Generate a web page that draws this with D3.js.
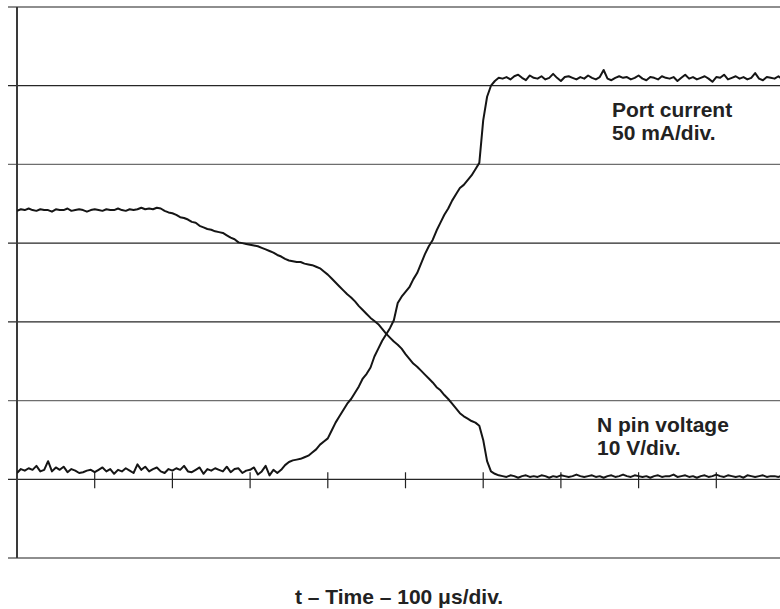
<!DOCTYPE html>
<html>
<head>
<meta charset="utf-8">
<script src="https://cdn.jsdelivr.net/npm/d3@7"></script>
<style>
  body { margin: 0; background: #fff; }
  svg { display: block; font-family: "Liberation Sans", Arial, sans-serif; }
</style>
</head>
<body>
<svg id="chart" width="780" height="609"></svg>
<script>
// ---------------------------------------------
//  Scope capture data
// ---------------------------------------------

// sample period of the capture, in microseconds
const sampleStep = 5;
const timeSpan = 1000;

// Port current, mA (50 mA/div)
const portCurrent = [
  4.0, 6.5, 5.5, 7.0, 6.0, 8.5, 5.0, 6.0, 11.5, 5.0, 7.5, 6.0, 8.0, 4.5, 6.5, 5.5, 4.0, 4.5, 5.5, 6.0,
  4.5, 6.0, 7.5, 5.0, 6.5, 3.5, 6.0, 5.0, 7.0, 5.5, 4.0, 9.5, 6.0, 8.0, 5.0, 6.5, 7.5, 5.0, 4.0, 6.5,
  5.5, 7.0, 6.0, 8.5, 5.0, 4.5, 6.0, 7.5, 3.5, 6.5, 5.5, 7.0, 6.0, 5.0, 8.0, 4.5, 6.5, 7.0, 4.0, 5.5,
  6.0, 7.5, 3.0, 5.0, 8.5, 2.5, 6.0,
  4.0, 6.0, 9.0, 11.0, 12.0, 12.5, 13.0, 14.0, 15.0, 17.0, 19.0, 22.0, 24.0, 26.0, 31.0, 36.0, 40.0, 44.0, 48.0, 51.0,
  55.0, 59.0, 64.0, 67.0, 71.0, 78.0, 83.0, 88.0, 92.0, 96.0, 101.0, 112.0, 116.0, 119.0, 122.0, 127.0, 131.0, 137.0, 143.0, 148.0,
  152.0, 158.0, 163.0, 168.0, 172.0, 177.0, 181.0, 185.0, 187.0, 190.0, 193.0, 197.0, 201.0, 228.0, 243.0, 250.0, 253.0, 255.0,
  254.5, 255.5, 254, 256, 257, 255, 253.5, 256.5, 255, 254.5,
  256, 254, 255, 257.5, 255, 253, 255.5, 256, 255, 254,
  255.5, 254.5, 256.5, 255, 254, 255.5, 260, 254.5, 253.5, 255,
  256, 255, 255.5, 254, 255, 256.5, 254.5, 253.5, 255.5, 255,
  254, 256, 255, 254.5, 255.5, 253, 255, 257, 254.5, 255.5,
  254, 255, 256, 254.5, 252.5, 255.5, 255, 257, 254, 255,
  256, 254.5, 255.5, 254, 255, 258, 254.5, 253.5, 255.5, 255,
  254.5, 256, 254, 255, 255.5, 254.5
];

// N pin voltage, V (10 V/div)
const pinVoltage = [
  34.1, 34.3, 34.2, 34.4, 34.2, 34.1, 34.3, 34.2, 34.2, 34.0,
  34.3, 34.2, 34.2, 34.4, 34.1, 34.2, 34.3, 34.2, 34.0, 34.2,
  34.3, 34.2, 34.1, 34.3, 34.2, 34.2, 34.4, 34.2, 34.1, 34.3,
  34.2, 34.3, 34.5, 34.3, 34.4,
  34.3, 34.5, 34.4, 34.1, 33.9, 33.8, 33.6, 33.3, 33.2, 33.0,
  32.7, 32.6, 32.2, 32.0, 31.8, 31.7, 31.5, 31.4, 31.3, 31.0,
  30.7, 30.5, 30.1, 30.0, 29.9, 29.8, 29.7, 29.6, 29.4, 29.2,
  29.0, 28.8, 28.5, 28.3, 28.0, 27.8, 27.7, 27.6, 27.6, 27.4,
  27.3, 27.2, 27.0, 26.8, 26.4, 26.0, 25.5, 25.0, 24.5, 24.0,
  23.5, 23.1, 22.6, 22.0, 21.5, 21.0, 20.5, 20.1, 19.7, 19.1,
  18.5, 18.0, 17.5, 17.1, 16.6, 15.9, 15.3, 14.7, 14.3, 13.8,
  13.3, 12.8, 12.3, 11.7, 11.3, 10.7, 10.2, 9.6, 9.0, 8.4,
  8.0, 7.7, 7.4, 7.2, 6.8,
  5.0, 2.3, 1.0, 0.7, 0.5,
  0.4, 0.3, 0.5, 0.4, 0.2, 0.4, 0.5, 0.3, 0.4, 0.3,
  0.5, 0.4, 0.2, 0.4, 0.3, 0.5, 0.4, 0.3, 0.4, 0.6,
  0.4, 0.3, 0.4, 0.5, 0.3, 0.4, 0.2, 0.4, 0.5, 0.3,
  0.4, 0.6, 0.4, 0.3, 0.5, 0.4, 0.3, 0.4, 0.2, 0.4,
  0.5, 0.3, 0.4, 0.4, 0.6, 0.3, 0.4, 0.5, 0.3, 0.4,
  0.2, 0.4, 0.5, 0.3, 0.4, 0.6, 0.4, 0.3, 0.5, 0.4,
  0.3, 0.4, 0.2, 0.5, 0.4, 0.3, 0.4, 0.5, 0.3, 0.4,
  0.4, 0.3, 0.5, 0.4, 0.3, 0.4
];

// screen divisions: 10 across, 7 down (one below the zero line)
const timeDivs = [0, 100, 200, 300, 400, 500, 600, 700, 800, 900, 1000];
const currentDivs = [-50, 0, 50, 100, 150, 200, 250, 300];

const traceLabels = [
  { lines: ["Port current", "50 mA/div."], x: 612, y: 117 },
  { lines: ["N pin voltage", "10 V/div."], x: 597, y: 432 }
];
const xTitle = "t \u2013 Time \u2013 100 \u03bcs/div.";

// ---------------------------------------------
//  Scales
// ---------------------------------------------

const svg = d3.select("#chart");
const W = 780, H = 609;
const plotLeft = 17, plotTop = 7, plotBottom = 558;

const x = d3.scaleLinear().domain([0, timeSpan]).range([plotLeft, plotLeft + 777]);
const yCurrent = d3.scaleLinear().domain([-50, 300]).range([plotBottom, plotTop]);
const yVoltage = d3.scaleLinear().domain([-10, 60]).range([plotBottom, plotTop]);

// ---------------------------------------------
//  Graticule
// ---------------------------------------------

const grid = svg.append("g");

// the scan leaves the outer rows and two middle rows a bit lighter
currentDivs.forEach(v => {
  const outer = v === -50 || v === 300;
  const soft = v === 200 || v === 50;
  grid.append("line")
    .attr("x1", 8).attr("x2", W)
    .attr("y1", yCurrent(v)).attr("y2", yCurrent(v))
    .attr("stroke", outer ? "#8e8e8e" : (soft ? "#6e6e6e" : "#262626"))
    .attr("stroke-width", outer ? 2 : 1.3);
});

grid.append("line")
  .attr("x1", plotLeft).attr("x2", plotLeft)
  .attr("y1", plotTop).attr("y2", plotBottom)
  .attr("stroke", "#3a3a3a")
  .attr("stroke-width", 2);

// time ticks straddle the zero line
grid.selectAll(".tick")
  .data(timeDivs.filter(t => t > 0))
  .enter().append("line")
  .attr("class", "tick")
  .attr("x1", d => x(d)).attr("x2", d => x(d))
  .attr("y1", yCurrent(0) - 7).attr("y2", yCurrent(0) + 9)
  .attr("stroke", "#222")
  .attr("stroke-width", 1.2);

// ---------------------------------------------
//  Traces
// ---------------------------------------------

svg.append("clipPath").attr("id", "plot")
  .append("rect").attr("x", plotLeft).attr("y", 0).attr("width", W - plotLeft).attr("height", H);

const currentLine = d3.line()
  .x((d, i) => x(i * sampleStep))
  .y(d => yCurrent(d));

const voltageLine = d3.line()
  .x((d, i) => x(i * sampleStep))
  .y(d => yVoltage(d));

const traces = svg.append("g").attr("clip-path", "url(#plot)");

traces.append("path")
  .datum(portCurrent)
  .attr("d", currentLine)
  .attr("fill", "none")
  .attr("stroke", "#151515")
  .attr("stroke-width", 2)
  .attr("stroke-linejoin", "round");

traces.append("path")
  .datum(pinVoltage)
  .attr("d", voltageLine)
  .attr("fill", "none")
  .attr("stroke", "#151515")
  .attr("stroke-width", 2)
  .attr("stroke-linejoin", "round");

// ---------------------------------------------
//  Text
// ---------------------------------------------

traceLabels.forEach(lab => {
  const t = svg.append("text")
    .attr("x", lab.x).attr("y", lab.y)
    .attr("font-size", 21)
    .attr("font-weight", "bold")
    .attr("fill", "#222");
  lab.lines.forEach((s, i) => {
    t.append("tspan").attr("x", lab.x).attr("dy", i === 0 ? 0 : 23).text(s);
  });
});

svg.append("text")
  .attr("x", 399).attr("y", 604)
  .attr("text-anchor", "middle")
  .attr("font-size", 21)
  .attr("font-weight", "bold")
  .attr("fill", "#222")
  .text(xTitle);
</script>
</body>
</html>
